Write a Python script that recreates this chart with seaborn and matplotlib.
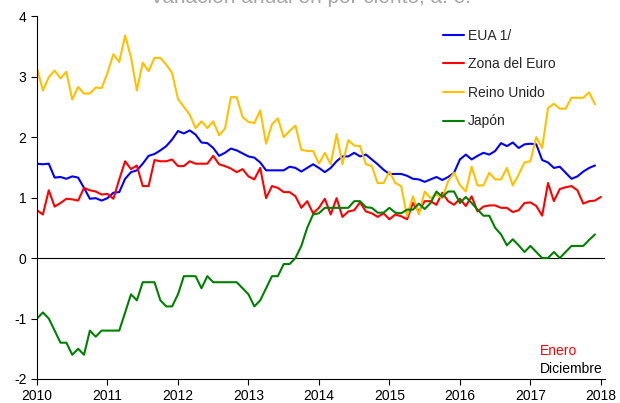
import numpy as np
import pandas as pd
import matplotlib
matplotlib.use("Agg")
import matplotlib.pyplot as plt
import seaborn as sns

# monthly data, Jan 2010 onwards
eua = [1.56, 1.55, 1.56, 1.33, 1.34, 1.31, 1.35, 1.33, 1.16, 0.98, 0.99, 0.95,
       0.99, 1.08, 1.09, 1.31, 1.42, 1.45, 1.56, 1.69, 1.72, 1.78, 1.85, 1.96,
       2.10, 2.06, 2.11, 2.04, 1.91, 1.90, 1.82, 1.69, 1.74, 1.81, 1.78, 1.73,
       1.68, 1.66, 1.58, 1.45, 1.45, 1.45, 1.45, 1.51, 1.49, 1.43, 1.49, 1.55,
       1.49, 1.42, 1.49, 1.60, 1.68, 1.68, 1.74, 1.68, 1.71, 1.63, 1.55, 1.46,
       1.39, 1.39, 1.39, 1.36, 1.31, 1.30, 1.26, 1.30, 1.34, 1.29, 1.34, 1.41,
       1.63, 1.71, 1.63, 1.69, 1.74, 1.71, 1.77, 1.90, 1.85, 1.91, 1.82, 1.88,
       1.89, 1.88, 1.62, 1.58, 1.49, 1.51, 1.41, 1.31, 1.35, 1.43, 1.49, 1.53]

zona_euro = [0.79, 0.72, 1.12, 0.85, 0.91, 0.98, 0.97, 0.95, 1.16, 1.12, 1.10, 1.05,
             1.06, 0.98, 1.30, 1.60, 1.47, 1.53, 1.19, 1.19, 1.62, 1.60, 1.60, 1.63,
             1.52, 1.52, 1.60, 1.56, 1.56, 1.56, 1.69, 1.55, 1.52, 1.48, 1.42, 1.47,
             1.35, 1.30, 1.49, 0.99, 1.19, 1.16, 1.09, 1.09, 1.02, 0.83, 0.94, 0.74,
             0.83, 0.98, 0.72, 0.99, 0.68, 0.77, 0.79, 0.92, 0.77, 0.74, 0.68, 0.74,
             0.64, 0.72, 0.69, 0.64, 0.91, 0.77, 0.94, 0.94, 0.88, 1.08, 0.94, 0.88,
             0.98, 0.86, 1.02, 0.77, 0.85, 0.87, 0.87, 0.83, 0.83, 0.76, 0.79, 0.91,
             0.92, 0.86, 0.70, 1.24, 0.94, 1.14, 1.17, 1.19, 1.12, 0.90, 0.94, 0.95,
             1.01]

reino_unido = [3.14, 2.77, 2.99, 3.10, 2.97, 3.08, 2.62, 2.83, 2.72, 2.72, 2.82, 2.81,
               3.06, 3.37, 3.24, 3.68, 3.32, 2.77, 3.23, 3.09, 3.31, 3.31, 3.20, 3.06,
               2.63, 2.50, 2.37, 2.15, 2.26, 2.15, 2.26, 2.03, 2.14, 2.66, 2.66, 2.33,
               2.25, 2.23, 2.44, 1.89, 2.21, 2.31, 2.00, 2.10, 2.19, 1.79, 1.77, 1.77,
               1.56, 1.74, 1.55, 2.05, 1.55, 1.95, 1.86, 1.85, 1.55, 1.52, 1.24, 1.24,
               1.43, 1.24, 1.19, 0.69, 1.02, 0.72, 1.10, 0.99, 1.05, 0.99, 1.27, 1.41,
               1.21, 1.10, 1.51, 1.20, 1.20, 1.41, 1.30, 1.30, 1.49, 1.20, 1.38, 1.58,
               1.60, 2.00, 1.82, 2.48, 2.55, 2.47, 2.47, 2.65, 2.65, 2.65, 2.74, 2.54]

japon = [-1.0, -0.9, -1.0, -1.2, -1.4, -1.4, -1.6, -1.5, -1.6, -1.2, -1.3, -1.2,
         -1.2, -1.2, -1.2, -0.9, -0.6, -0.7, -0.4, -0.4, -0.4, -0.7, -0.8, -0.8,
         -0.6, -0.3, -0.3, -0.3, -0.5, -0.3, -0.4, -0.4, -0.4, -0.4, -0.4, -0.5,
         -0.6, -0.8, -0.7, -0.5, -0.3, -0.3, -0.1, -0.1, 0.0, 0.2, 0.5, 0.72,
         0.74, 0.83, 0.83, 0.83, 0.83, 0.83, 0.94, 0.94, 0.84, 0.83, 0.75, 0.75,
         0.83, 0.75, 0.74, 0.80, 0.80, 0.90, 0.81, 0.91, 1.10, 1.01, 1.10, 1.10,
         0.91, 1.01, 0.91, 0.80, 0.70, 0.70, 0.50, 0.39, 0.21, 0.31, 0.21, 0.10,
         0.20, 0.10, 0.0, 0.0, 0.10, 0.0, 0.10, 0.20, 0.20, 0.20, 0.30, 0.39]

series = {"EUA 1/": eua, "Zona del Euro": zona_euro,
          "Reino Unido": reino_unido, "Japón": japon}
colores = {"EUA 1/": "#0000FF", "Zona del Euro": "#FF0000",
           "Reino Unido": "#FFC000", "Japón": "#008000"}
years = list(range(2010, 2019))
yticks = [-2, -1, 0, 1, 2, 3, 4]

frames = []
for name, vals in series.items():
    frames.append(pd.DataFrame({"fecha": 2010 + np.arange(len(vals)) / 12,
                                "valor": vals, "serie": name}))
df = pd.concat(frames, ignore_index=True)

sns.set_style("white")
plt.rcParams["font.family"] = ["Liberation Sans", "DejaVu Sans"]
plt.rcParams["axes.unicode_minus"] = False

fig = plt.figure(figsize=(6.2, 4.03), dpi=100)
ax = fig.add_axes([0.0597, 0.0596, 0.9163, 0.9004])

sns.lineplot(data=df, x="fecha", y="valor", hue="serie",
             hue_order=list(series.keys()), palette=colores,
             linewidth=1.5, ax=ax)

ax.axhline(0, color="black", linewidth=0.8, zorder=1)
ax.set_xlim(2010, 2018.06)
ax.set_ylim(-2, 4)
ax.set_xticks(years)
ax.set_xticklabels([str(y) for y in years])
ax.set_yticks(yticks)
ax.set_yticklabels([str(t) for t in yticks])
ax.set_xlabel("")
ax.set_ylabel("")
for s in ["top", "right"]:
    ax.spines[s].set_visible(False)
for s in ["left", "bottom"]:
    ax.spines[s].set_color("black")
    ax.spines[s].set_linewidth(0.8)
ax.tick_params(axis="both", direction="out", length=4, width=0.8,
               colors="black", labelsize=10, bottom=True, left=True)

ax.legend(loc="upper right", bbox_to_anchor=(0.935, 1.0), frameon=False,
          fontsize=10, handlelength=1.5, handletextpad=0.3,
          labelspacing=1.05)

ax.text(2017.13, -1.6, "Enero", color="#FF0000", fontsize=10)
ax.text(2017.13, -1.9, "Diciembre", color="black", fontsize=10)

fig.text(0.5, 1.005, "Variación anual en por ciento, a. e.", color="#A6A6A6",
         fontsize=15, ha="center", va="center")

fig.savefig("out.png", dpi=100)
